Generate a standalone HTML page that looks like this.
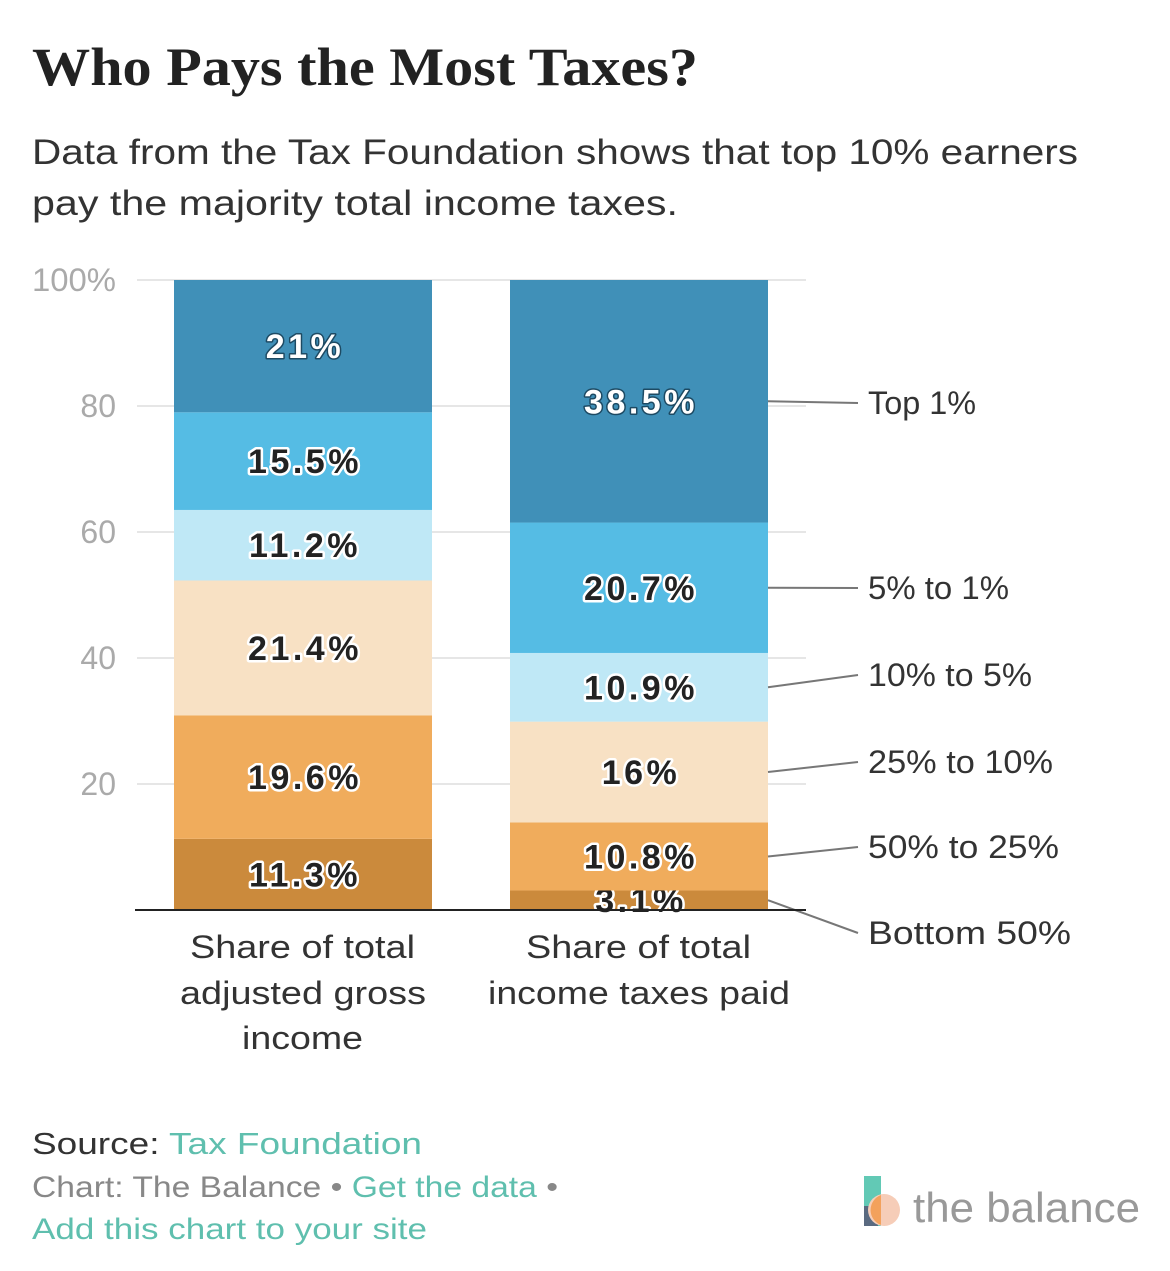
<!DOCTYPE html>
<html><head><meta charset="utf-8"><style>
body{margin:0;background:#fff;width:1170px;height:1266px;overflow:hidden;font-family:"Liberation Sans",sans-serif}
</style></head><body>
<svg width="1170" height="1266" xmlns="http://www.w3.org/2000/svg">
<text x="32" y="85" font-family="Liberation Serif,serif" font-weight="bold" font-size="54" fill="#222" textLength="666" lengthAdjust="spacingAndGlyphs">Who Pays the Most Taxes?</text>
<text x="32" y="164" font-size="35" fill="#333" textLength="1046" lengthAdjust="spacingAndGlyphs">Data from the Tax Foundation shows that top 10% earners</text>
<text x="32" y="215" font-size="35" fill="#333" textLength="646" lengthAdjust="spacingAndGlyphs">pay the majority total income taxes.</text>
<g id="grid"></g><g id="bars"></g><g id="leg"></g>
<line x1="135" x2="806" y1="910" y2="910" stroke="#222" stroke-width="2"/>
<g font-size="32" fill="#333">
<text x="190" y="958" textLength="225" lengthAdjust="spacingAndGlyphs">Share of total</text>
<text x="180" y="1004" textLength="246" lengthAdjust="spacingAndGlyphs">adjusted gross</text>
<text x="242" y="1049" textLength="121" lengthAdjust="spacingAndGlyphs">income</text></g>
<g font-size="32" fill="#333">
<text x="526" y="958" textLength="225" lengthAdjust="spacingAndGlyphs">Share of total</text>
<text x="488" y="1004" textLength="302" lengthAdjust="spacingAndGlyphs">income taxes paid</text></g>
<text x="32" y="1154" font-size="31" fill="#333" textLength="390" lengthAdjust="spacingAndGlyphs">Source: <tspan fill="#5fbfae">Tax Foundation</tspan></text>
<text x="32" y="1197" font-size="30" fill="#888" textLength="526" lengthAdjust="spacingAndGlyphs">Chart: The Balance • <tspan fill="#5fbfae">Get the data</tspan> •</text>
<text x="32" y="1239" font-size="30" fill="#5fbfae" textLength="395" lengthAdjust="spacingAndGlyphs">Add this chart to your site</text>
<g>
<rect x="864" y="1176" width="17" height="50" fill="#62c9b5"/>
<rect x="864" y="1206" width="14" height="20" fill="#5a6a80"/>
<circle cx="884" cy="1210" r="16" fill="#f6cdb8"/>
<path d="M881 1195 A16 16 0 0 0 881 1225 Z" fill="#f3a15c"/>
<text x="913" y="1222" font-size="42" fill="#999" textLength="227" lengthAdjust="spacingAndGlyphs">the balance</text>
</g>
</svg>
<script>
const ticks=[0,20,40,60,80,100];
const tickLabels=["","20","40","60","80","100%"];
const categories=["Share of total adjusted gross income","Share of total income taxes paid"];
const groups=["Bottom 50%","50% to 25%","25% to 10%","10% to 5%","5% to 1%","Top 1%"];
const agiValues=[11.3,19.6,21.4,11.2,15.5,21];
const taxValues=[3.1,10.8,16,10.9,20.7,38.5];
const labelYs=[933,847,762,675,588,403];
const legendWidths=[203,191,185,164,141,108];
const colors=["#cb8a3c","#f0ac5c","#f8e1c4","#bfe8f6","#55bce4","#4090b8"];
const NS="http://www.w3.org/2000/svg";
const y=v=>910-v*6.3;
const bx=[174,510],bw=258;
function mk(t,a,p){const e=document.createElementNS(NS,t);for(const k in a)e.setAttribute(k,a[k]);document.getElementById(p).appendChild(e);return e;}
ticks.forEach((t,i)=>{
 if(t>0){const l=mk("line",{x1:137,x2:806,y1:y(t),y2:y(t),stroke:"#e6e6e6","stroke-width":2},"grid");
 
 }
 const tx=mk("text",{x:116,y:y(t)+11,"font-size":32,fill:"#aaa","text-anchor":"end"},"grid");tx.textContent=tickLabels[i];
 if(i==5){tx.setAttribute("textLength","84");tx.setAttribute("lengthAdjust","spacingAndGlyphs");}
 
 
});
[agiValues,taxValues].forEach((vals,b)=>{
 let c=0;
 vals.forEach((v,i)=>{
  const r=mk("rect",{x:bx[b],y:y(c+v),width:bw,height:v*6.3,fill:colors[i]},"bars");
  
  
  const mid=(y(c)+y(c+v))/2;
  const top=i==5;
  const t=mk("text",{x:bx[b]+bw/2+2,y:mid+12,"font-size":34,"font-weight":"bold","letter-spacing":"3.5","text-anchor":"middle",fill:top?"#fff":"#222",stroke:top?"#1d4a63":"#fff","stroke-width":top?3:5,"paint-order":"stroke","stroke-linejoin":"round"},"bars");
  t.textContent=v+"%";
  
  
  if(b==1){
   const l=mk("line",{x1:768,y1:mid,x2:858,y2:labelYs[i],stroke:"#777","stroke-width":2},"leg");
   
   
   const lt=mk("text",{x:868,y:labelYs[i]+11,"font-size":32,fill:"#333",textLength:legendWidths[i],lengthAdjust:"spacingAndGlyphs"},"leg");
   lt.textContent=groups[i];
   
   
  }
  c+=v;
 });
});
</script>
</body></html>
